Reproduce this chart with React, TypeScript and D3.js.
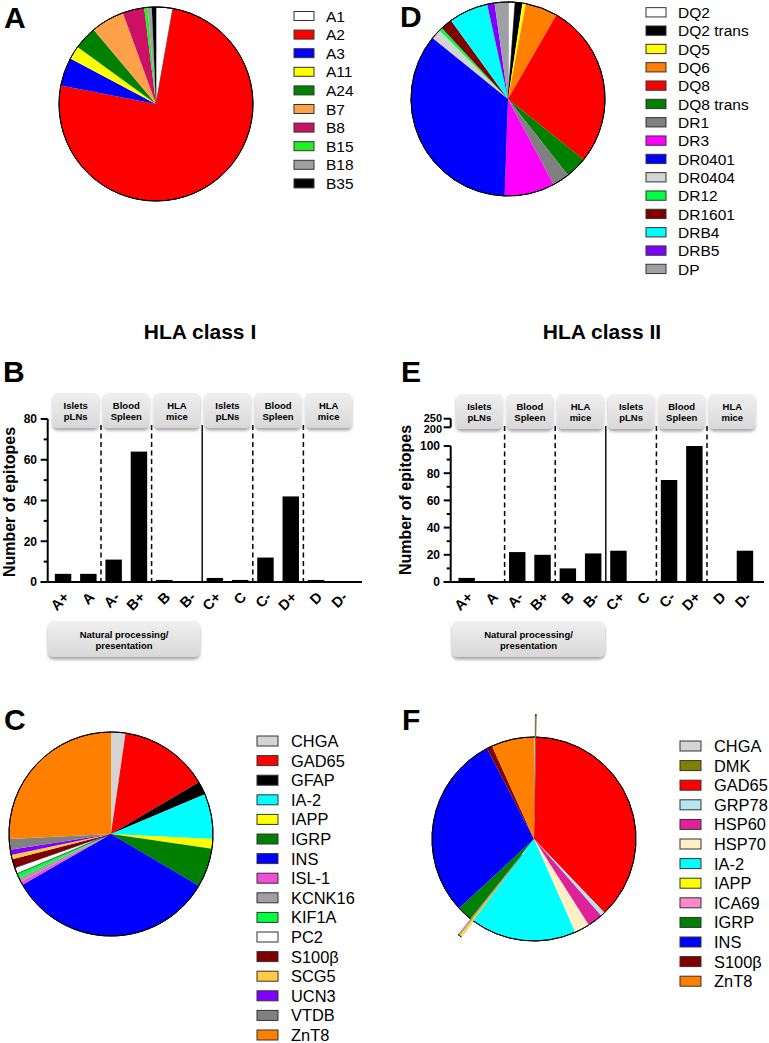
import React from 'react';
import * as d3 from 'd3';

const FONT = '"Liberation Sans", Arial, Helvetica, sans-serif';

// Panel A - HLA class I restrictions
const classIAlleles = ['A1', 'A2', 'A3', 'A11', 'A24', 'B7', 'B8', 'B15', 'B18', 'B35'];
const classIAlleleShare = [10, 271, 17, 8, 14, 20, 13, 2, 2.5, 2.5];
const classIAlleleColors = ['#ffffff', '#ff0000', '#0000ff', '#ffff00', '#008000', '#ffa04a', '#cc1066', '#22f022', '#a0a0a4', '#000000'];

// Panel D - HLA class II restrictions
const classIIAlleles = ['DQ2', 'DQ2 trans', 'DQ5', 'DQ6', 'DQ8', 'DQ8 trans', 'DR1', 'DR3', 'DR0401', 'DR0404', 'DR12', 'DR1601', 'DRB4', 'DRB5', 'DP'];
const classIIAlleleShare = [4.2, 4.4, 2, 19.3, 98.8, 13.1, 10.1, 30.1, 127, 6, 2, 7, 23.6, 4.4, 8];
const classIIAlleleColors = ['#ffffff', '#000000', '#ffff00', '#ff8000', '#ff0000', '#008000', '#808080', '#ff00ff', '#0000ff', '#d4d4d4', '#00ff40', '#800000', '#00ffff', '#8000ff', '#a0a0a4'];

// Panel C - class I antigens
const classIAntigens = ['CHGA', 'GAD65', 'GFAP', 'IA-2', 'IAPP', 'IGRP', 'INS', 'ISL-1', 'KCNK16', 'KIF1A', 'PC2', 'S100\u03b2', 'SCG5', 'UCN3', 'VTDB', 'ZnT8'];
const classIAntigenShare = [8.2, 51.2, 7.7, 25.7, 5.4, 22.3, 119.5, 2, 2.5, 2.5, 3.5, 5, 2.5, 3, 6, 92.8];
const classIAntigenColors = ['#d4d4d4', '#ff0000', '#000000', '#00ffff', '#ffff00', '#008000', '#0000ff', '#f04ed8', '#a0a0a4', '#00ff40', '#ffffff', '#800000', '#ffcc44', '#8000ff', '#808080', '#ff8000'];

// Panel F - class II antigens
const classIIAntigens = ['CHGA', 'DMK', 'GAD65', 'GRP78', 'HSP60', 'HSP70', 'IA-2', 'IAPP', 'ICA69', 'IGRP', 'INS', 'S100\u03b2', 'ZnT8'];
const classIIAntigenShare = [0.5, 0.7, 135.1, 2.5, 8.8, 8.6, 60.3, 1.2, 0.8, 8.8, 105.3, 3.1, 24.3];
const classIIAntigenColors = ['#d4d4d4', '#808000', '#ff0000', '#b4e6f2', '#e0229a', '#ffefc2', '#00ffff', '#ffff00', '#ff88cc', '#008000', '#0000ff', '#800000', '#ff8000'];
const classIIAntigenExplode = [0, 22, 0, 0, 0, 0, 0, 20, 20, 0, 0, 0, 0];

// Panels B and E - epitopes per identification approach
const approachCategories = ['A+', 'A', 'A-', 'B+', 'B', 'B-', 'C+', 'C', 'C-', 'D+', 'D', 'D-'];
const classIEpitopes = [4, 4, 11, 64, 1, 0, 2, 1, 12, 42, 1, 0];
const classIIEpitopes = [3, 0, 22, 20, 10, 21, 23, 0, 75, 210, 0, 23];
const sourceLabels = [['Islets', 'pLNs'], ['Blood', 'Spleen'], ['HLA', 'mice'], ['Islets', 'pLNs'], ['Blood', 'Spleen'], ['HLA', 'mice']];
const naturalLabel = ['Natural processing/', 'presentation'];
// separators after category index: dashed / solid
const separators = [{ after: 1, solid: false }, { after: 3, solid: false }, { after: 5, solid: true }, { after: 7, solid: false }, { after: 9, solid: false }];

interface PieProps {
  cx: number;
  cy: number;
  r: number;
  values: number[];
  colors: string[];
  explode?: number[];
}

const Pie: React.FC<PieProps> = ({ cx, cy, r, values, colors, explode = [] }) => {
  const arcs = d3.pie<number>().sort(null).value(d => d)(values);
  const arc = d3.arc<d3.PieArcDatum<number>>().innerRadius(0).outerRadius(r);
  const rim = d3.arc<d3.PieArcDatum<number>>().innerRadius(r).outerRadius(r);
  return (
    <g>
      {arcs.map((a, i) => {
        const off = explode[i] || 0;
        const mid = (a.startAngle + a.endAngle) / 2;
        const dx = off * Math.sin(mid);
        const dy = -off * Math.cos(mid);
        const white = colors[i] === '#ffffff';
        return (
          <g key={i} transform={`translate(${cx + dx},${cy + dy})`}>
            <path
              d={arc(a) || ''}
              fill={colors[i]}
              stroke={white ? '#000' : off > 0 ? '#555' : 'none'}
              strokeWidth={white ? 0.6 : 0.35}
            />
            <path d={rim(a) || ''} fill="none" stroke="#000" strokeWidth={1} />
          </g>
        );
      })}
    </g>
  );
};

interface LegendProps {
  x: number;
  y0: number;
  step: number;
  w: number;
  h: number;
  textX: number;
  fontSize: number;
  labels: string[];
  colors: string[];
}

const Legend: React.FC<LegendProps> = ({ x, y0, step, w, h, textX, fontSize, labels, colors }) => (
  <g>
    {labels.map((l, i) => {
      const y = y0 + i * step;
      return (
        <g key={l}>
          <rect x={x} y={y - h / 2} width={w} height={h} fill={colors[i]} stroke="#333" strokeWidth={1} />
          <text x={textX} y={y + fontSize * 0.36} fontSize={fontSize} fontFamily={FONT} fill="#000">
            {l}
          </text>
        </g>
      );
    })}
  </g>
);

interface BarPanelProps {
  values: number[];
  bandRange: [number, number];
  axisX: number;
  xAxisEnd: number;
  baseY: number;
  lowerMax: number;
  lowerTop: number;
  majorTicks: number[];
  minorTicks: number[];
  upper?: { domain: [number, number]; range: [number, number] };
  tickLabelX: number;
  yLabelX: number;
  yLabelY: number;
  boxTop: number;
  natBox: [number, number];
}

const BarPanel: React.FC<BarPanelProps> = ({
  values,
  bandRange,
  axisX,
  xAxisEnd,
  baseY,
  lowerMax,
  lowerTop,
  majorTicks,
  minorTicks,
  upper,
  tickLabelX,
  yLabelX,
  yLabelY,
  boxTop,
  natBox,
}) => {
  const x = d3.scaleBand<string>().domain(approachCategories).range(bandRange).paddingInner(0.35).paddingOuter(0.175);
  const y = d3.scaleLinear().domain([0, lowerMax]).range([baseY, lowerTop]);
  const yUp = upper ? d3.scaleLinear().domain(upper.domain).range(upper.range) : null;
  const center = (c: string) => (x(c) as number) + x.bandwidth() / 2;
  const step = x.step();
  const tickLeft = axisX - 7;

  return (
    <g fontFamily={FONT}>
      {/* separators */}
      {separators.map(s => {
        const sx = center(approachCategories[s.after]) + step / 2;
        return (
          <line
            key={s.after}
            x1={sx}
            x2={sx}
            y1={boxTop + 32}
            y2={baseY}
            stroke="#000"
            strokeWidth={s.solid ? 1.4 : 1.5}
            strokeDasharray={s.solid ? undefined : '5,3.5'}
          />
        );
      })}

      {/* bars */}
      {values.map((v, i) => {
        const c = approachCategories[i];
        const lv = Math.min(v, lowerMax);
        return (
          <g key={c}>
            {v > 0 && (
              <rect x={x(c)} y={y(lv)} width={x.bandwidth()} height={baseY - y(lv)} fill="#000" />
            )}
            {yUp && v > upper!.domain[0] && (
              <rect
                x={x(c)}
                y={yUp(Math.min(v, upper!.domain[1]))}
                width={x.bandwidth()}
                height={yUp(upper!.domain[0]) - yUp(Math.min(v, upper!.domain[1]))}
                fill="#000"
              />
            )}
          </g>
        );
      })}

      {/* y axis */}
      <line x1={axisX} x2={axisX} y1={baseY} y2={lowerTop} stroke="#000" strokeWidth={2} />
      {majorTicks.map(t => (
        <g key={t}>
          <line x1={tickLeft} x2={axisX} y1={y(t)} y2={y(t)} stroke="#000" strokeWidth={2} />
          <text x={tickLabelX} y={y(t) + 4.3} textAnchor="end" fontSize={12} fontWeight="bold">
            {t}
          </text>
        </g>
      ))}
      {minorTicks.map(t => (
        <line key={t} x1={axisX - 4} x2={axisX} y1={y(t)} y2={y(t)} stroke="#000" strokeWidth={2} />
      ))}
      {yUp && upper && (
        <g>
          <line x1={axisX} x2={axisX} y1={upper.range[0]} y2={upper.range[1]} stroke="#000" strokeWidth={2} />
          {upper.domain.map((t, k) => (
            <g key={t}>
              <line x1={tickLeft} x2={axisX} y1={yUp(t)} y2={yUp(t)} stroke="#000" strokeWidth={2} />
              <text x={tickLabelX + 2} y={yUp(t) + (k === 0 ? 5.5 : 3)} textAnchor="end" fontSize={11} fontWeight="bold">
                {t}
              </text>
            </g>
          ))}
        </g>
      )}

      {/* x axis */}
      <line x1={tickLeft} x2={xAxisEnd} y1={baseY} y2={baseY} stroke="#000" strokeWidth={2} />
      {approachCategories.map(c => (
        <text
          key={c}
          transform={`translate(${center(c) + 7},${baseY + 16}) rotate(-45)`}
          textAnchor="end"
          fontSize={14.5}
          fontWeight="bold"
        >
          {c}
        </text>
      ))}

      {/* y label */}
      <text
        transform={`translate(${yLabelX},${yLabelY}) rotate(-90)`}
        textAnchor="middle"
        fontSize={16}
        fontWeight="bold"
      >
        Number of epitopes
      </text>

      {/* source boxes */}
      {sourceLabels.map((lines, k) => {
        const bx = (center(approachCategories[2 * k]) + center(approachCategories[2 * k + 1])) / 2;
        return (
          <g key={k}>
            <rect x={bx - 23} y={boxTop} width={46} height={35} rx={5} fill="url(#boxGrad)" filter="url(#boxShadow)" />
            {lines.map((t, j) => (
              <text key={t} x={bx} y={boxTop + 15.5 + j * 11} textAnchor="middle" fontSize={9.5} fontWeight="bold">
                {t}
              </text>
            ))}
          </g>
        );
      })}

      {/* natural processing box */}
      <rect x={natBox[0]} y={621} width={natBox[1] - natBox[0]} height={36} rx={6} fill="url(#boxGrad)" filter="url(#boxShadow)" />
      {naturalLabel.map((t, j) => (
        <text key={t} x={(natBox[0] + natBox[1]) / 2} y={637.5 + j * 11} textAnchor="middle" fontSize={9.5} fontWeight="bold">
          {t}
        </text>
      ))}
    </g>
  );
};

const PanelLetter: React.FC<{ x: number; y: number; t: string }> = ({ x, y, t }) => (
  <text x={x} y={y} fontSize={30} fontWeight="bold" fontFamily={FONT}>
    {t}
  </text>
);

export default function App() {
  return (
    <svg
      width={769}
      height={1043}
      viewBox="0 0 769 1043"
      style={{ position: 'absolute', left: 0, top: 0, background: '#fff' }}
    >
      <defs>
        <linearGradient id="boxGrad" x1="0" y1="0" x2="0" y2="1">
          <stop offset="0" stopColor="#f0f0f0" />
          <stop offset="1" stopColor="#d8d8d8" />
        </linearGradient>
        <filter id="boxShadow" x="-20%" y="-20%" width="140%" height="160%">
          <feDropShadow dx="0" dy="2.5" stdDeviation="1.6" floodColor="#000" floodOpacity="0.35" />
        </filter>
      </defs>

      {/* A */}
      <PanelLetter x={4} y={28} t="A" />
      <Pie cx={156} cy={104} r={97} values={classIAlleleShare} colors={classIAlleleColors} />
      <Legend x={294} y0={16} step={18.6} w={20} h={9} textX={326} fontSize={15.5} labels={classIAlleles} colors={classIAlleleColors} />

      {/* D */}
      <PanelLetter x={400} y={27} t="D" />
      <Pie cx={508} cy={99} r={97} values={classIIAlleleShare} colors={classIIAlleleColors} />
      <Legend x={646} y0={12.3} step={18.33} w={20} h={9.3} textX={678} fontSize={15.5} labels={classIIAlleles} colors={classIIAlleleColors} />

      {/* titles */}
      <text x={200} y={339} textAnchor="middle" fontSize={21} fontWeight="bold" fontFamily={FONT}>
        HLA class I
      </text>
      <text x={602} y={339} textAnchor="middle" fontSize={21} fontWeight="bold" fontFamily={FONT}>
        HLA class II
      </text>

      {/* B */}
      <PanelLetter x={3} y={382} t="B" />
      <BarPanel
        values={classIEpitopes}
        bandRange={[50.4, 354]}
        axisX={47.7}
        xAxisEnd={362}
        baseY={582}
        lowerMax={80}
        lowerTop={419}
        majorTicks={[0, 20, 40, 60, 80]}
        minorTicks={[10, 30, 50, 70]}
        tickLabelX={37}
        yLabelX={15}
        yLabelY={502}
        boxTop={393}
        natBox={[48, 200]}
      />

      {/* E */}
      <PanelLetter x={401} y={382} t="E" />
      <BarPanel
        values={classIIEpitopes}
        bandRange={[454, 757.6]}
        axisX={450.7}
        xAxisEnd={764}
        baseY={582}
        lowerMax={100}
        lowerTop={446}
        majorTicks={[0, 20, 40, 60, 80, 100]}
        minorTicks={[10, 30, 50, 70, 90]}
        upper={{ domain: [200, 250], range: [427.3, 418.7] }}
        tickLabelX={440}
        yLabelX={411}
        yLabelY={500}
        boxTop={394}
        natBox={[452, 605]}
      />

      {/* C */}
      <PanelLetter x={4} y={730} t="C" />
      <Pie cx={111} cy={834} r={102} values={classIAntigenShare} colors={classIAntigenColors} />
      <Legend x={257} y0={741} step={19.6} w={21} h={10} textX={291} fontSize={16.4} labels={classIAntigens} colors={classIAntigenColors} />

      {/* F */}
      <PanelLetter x={402} y={730} t="F" />
      <Pie cx={534} cy={839} r={102} values={classIIAntigenShare} colors={classIIAntigenColors} explode={classIIAntigenExplode} />
      <Legend x={680} y0={746} step={19.6} w={21} h={10} textX={714} fontSize={16.4} labels={classIIAntigens} colors={classIIAntigenColors} />
    </svg>
  );
}
